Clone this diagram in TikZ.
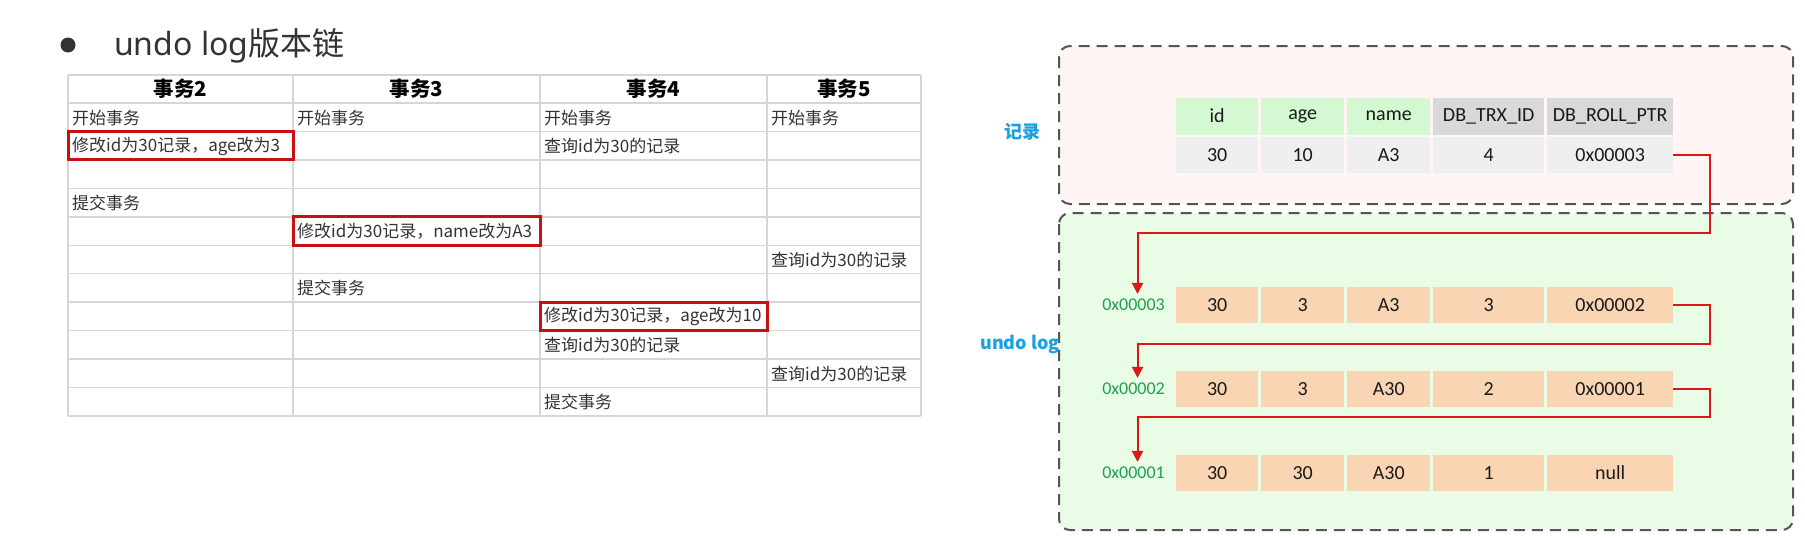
\documentclass[tikz,border=0pt]{standalone}
\usepackage{fontspec}
\usepackage{xcolor}
\usepackage{tikz}
\usetikzlibrary{arrows.meta}
\setmainfont{Noto Sans CJK SC}
\newfontfamily\cjk{Noto Sans CJK SC}
\newfontfamily\latinsans{Noto Sans}
\newfontfamily\calib{Carlito}
\definecolor{GridGray}{RGB}{214,214,214}
\definecolor{InkGray}{RGB}{51,51,51}
\definecolor{MarkRed}{RGB}{200,16,16}
\definecolor{PtrRed}{RGB}{222,22,22}
\definecolor{ZonePink}{RGB}{254,245,244}
\definecolor{ZoneGreen}{RGB}{232,252,230}
\definecolor{ZoneEdge}{RGB}{85,85,85}
\definecolor{FieldGreen}{RGB}{212,248,210}
\definecolor{FieldGray}{RGB}{217,217,217}
\definecolor{ValueGray}{RGB}{239,239,239}
\definecolor{LogPeach}{RGB}{249,213,180}
\definecolor{AddrGreen}{RGB}{34,160,80}
\definecolor{LabelBlue}{RGB}{27,160,222}
\tikzset{
  tline/.style={GridGray, line width=1.4pt},
  headcell/.style={font=\cjk\bfseries\fontsize{20.5}{24}\selectfont, text=black, inner sep=0pt},
  cell/.style={anchor=west, font=\cjk\fontsize{17}{20}\selectfont, text=InkGray, inner sep=0pt},
  hl/.style={draw=MarkRed, line width=3pt},
  zone/.style={draw=ZoneEdge, line width=2pt, dash pattern=on 11pt off 7pt, rounded corners=11pt},
  fld/.style={anchor=west, minimum height=37pt, inner sep=0pt, font=\calib\fontsize{20}{24}\selectfont, text=black!90},
  addr/.style={anchor=east, inner sep=1pt, font=\calib\fontsize{18}{22}\selectfont, text=AddrGreen},
  zonelabel/.style={font=\cjk\bfseries\fontsize{18}{22}\selectfont, text=LabelBlue, inner sep=0pt},
  ptr/.style={draw=PtrRed, line width=2pt, -{Triangle[length=11pt,width=11pt]}, shorten >=4pt},
}
\def\colx{{68,293,540,767,921}}

\begin{document}
\begin{tikzpicture}[x=1pt, y=-1pt]
  \useasboundingbox (0,0) rectangle (1805,538);
  % title
  \node[circle, fill=InkGray, minimum size=15pt, inner sep=0pt] (bullet) at (68,45) {};
  \node[anchor=base west, inner sep=0pt, text=InkGray, font=\fontsize{32}{38}\selectfont] (title) at (114,55)
    {{\latinsans undo log}\cjk 版本链};
  % transaction table
  \foreach \r in {0,...,12} {
    \pgfmathsetmacro{\yy}{ifthenelse(\r==0, 75, 103+28.45*(\r-1))}
    \draw[tline] (68,\yy) -- (921,\yy);
  }
  \foreach \x in {68,293,540,767,921}
    \draw[tline] (\x,75) -- (\x,416);
  \foreach \c/\xm in {2/180.5,3/416.5,4/653.5,5/844}
    \node[headcell] (h\c) at (\xm,89) {事务\c};
  \foreach \r/\c/\txt in {1/1/开始事务, 1/2/开始事务, 1/3/开始事务, 1/4/开始事务,
      2/1/{修改id为30记录，age改为3}, 2/3/查询id为30的记录, 4/1/提交事务,
      5/2/{修改id为30记录，name改为A3}, 6/4/查询id为30的记录, 7/2/提交事务,
      8/3/{修改id为30记录，age改为10}, 9/3/查询id为30的记录, 10/4/查询id为30的记录,
      11/3/提交事务} {
    \pgfmathsetmacro{\xa}{\colx[\c-1]}
    \pgfmathsetmacro{\ya}{103+28.45*(\r-1)}
    \node[cell] (t-\r-\c) at (\xa+4,\ya+14.6) {\txt};
  }
  \foreach \r/\c in {2/1,5/2,8/3} {
    \pgfmathsetmacro{\xa}{\colx[\c-1]}
    \pgfmathsetmacro{\xb}{\colx[\c]}
    \pgfmathsetmacro{\ya}{103+28.45*(\r-1)}
    \draw[hl] (\xa,\ya) rectangle (\xb,\ya+28.45);
  }
  % record and undo log
  \draw[zone, fill=ZonePink] (1059,46) rectangle (1793,204);
  \draw[zone, fill=ZoneGreen] (1059,213) rectangle (1793,530);
  \node[zonelabel] (reclab) at (1022,132) {记录};
  \node[zonelabel, anchor=east] (undolab) at (1060,344) {undo log};
  \foreach \k/\x/\w/\fc/\v in {1/1176/82/FieldGreen/id, 2/1261/83/FieldGreen/age, 3/1347/83/FieldGreen/name,
      4/1433/111/FieldGray/DB\_TRX\_ID, 5/1547/126/FieldGray/DB\_ROLL\_PTR}
    \node[fld, fill=\fc, minimum width=\w pt] (head-\k) at (\x,116) {\v};
  \foreach \rn/\yy/\fc/\va/\vb/\vc/\vd/\ve in {rec/155/ValueGray/30/10/A3/4/0x00003,
      u1/305/LogPeach/30/3/A3/3/0x00002, u2/389/LogPeach/30/3/A30/2/0x00001,
      u3/473/LogPeach/30/30/A30/1/null} {
    \foreach \k/\x/\w/\v in {1/1176/82/\va, 2/1261/83/\vb, 3/1347/83/\vc, 4/1433/111/\vd, 5/1547/126/\ve}
      \node[fld, fill=\fc, minimum width=\w pt, minimum height=36pt] (\rn-\k) at (\x,\yy) {\v};
  }
  \node[addr] (a1) at (1166,305) {0x00003};
  \node[addr] (a2) at (1166,389) {0x00002};
  \node[addr] (a3) at (1166,473) {0x00001};
  \coordinate (r1) at (1710,233);
  \coordinate (r2) at (1710,344);
  \coordinate (r3) at (1710,417);
  \draw[ptr] (rec-5.east) -| (r1) -| ([xshift=4pt]a1.north);
  \draw[ptr] (u1-5.east) -| (r2) -| ([xshift=4pt]a2.north);
  \draw[ptr] (u2-5.east) -| (r3) -| ([xshift=4pt]a3.north);
\end{tikzpicture}
\end{document}
